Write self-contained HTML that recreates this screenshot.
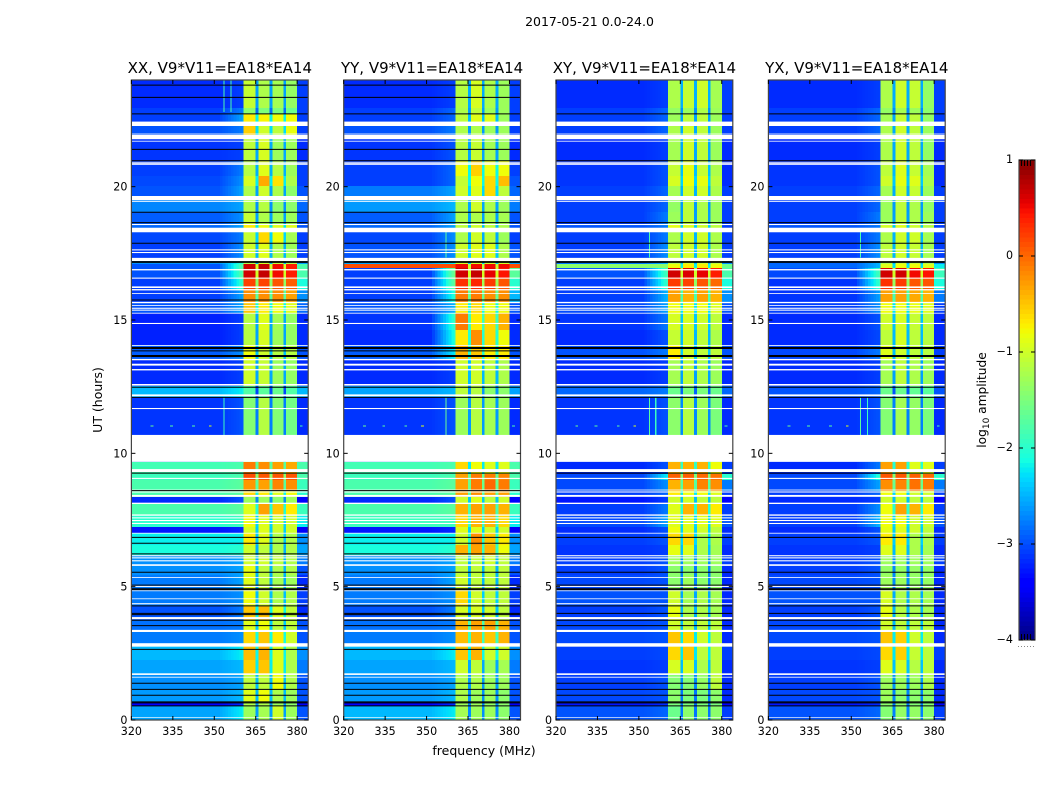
<!DOCTYPE html>
<html>
<head>
<meta charset="utf-8">
<title>2017-05-21 0.0-24.0</title>
<style>
html,body{margin:0;padding:0;background:#fff;width:1050px;height:800px;overflow:hidden}
svg{display:block}
text{font-family:"DejaVu Sans","Liberation Sans",sans-serif;fill:#000}
</style>
</head>
<body>
<svg id="chart" xmlns="http://www.w3.org/2000/svg" width="1050" height="800" viewBox="0 0 1050 800">
<text x="589.5" y="26" font-size="12.5" text-anchor="middle">2017-05-21 0.0-24.0</text>
<text x="484" y="755" font-size="12.5" text-anchor="middle">frequency (MHz)</text>
<text transform="translate(102,400) rotate(-90)" font-size="12.5" text-anchor="middle">UT (hours)</text>
<text transform="translate(986,400) rotate(-90)" font-size="12.2" text-anchor="middle">log<tspan font-size="9" dy="3">10</tspan><tspan dy="-3"> amplitude</tspan></text>
<g id="panels"></g>
<g id="colorbar"></g>
</svg>
<script>
// Time-band boundaries (UT hours), top to bottom; each row array has one entry per band.
const hourEdges = [24,22.95,22.73,22.43,21.94,20.96,20.40,20.03,19.65,19.05,18.56,18.30,17.85,17.33,17.10,16.95,16.58,16.13,15.64,15.26,14.63,14.06,13.50,12.53,12.11,9.68,9.23,9.00,8.59,8.36,8.14,7.69,7.24,7.01,6.56,6.19,5.81,5.44,4.88,4.28,3.75,3.30,2.78,2.25,1.69,1.13,0.68,0.53,0];
// Each row: log10 amplitude for [background, ramp, sub1, sub2, sub3, sub4, tail]
const xxRows = [
[-3,-2.9,-1.05,-1.2,-1.25,-1.35,-2.9],[-2.9,-2.6,-1.4,-1.5,-1.5,-1.6,-2.9],[-2.9,-2.4,-0.7,-0.75,-0.8,-0.8,-2.9],[-2.8,-2.6,-0.55,-1,-1.1,-0.85,-2.9],
[-2.95,-2.9,-1.1,-0.95,-1.3,-1.3,-3],[-2.9,-2.6,-1.15,-0.9,-1.15,-1.3,-2.9],[-2.85,-2.5,-0.95,-0.35,-0.65,-1.2,-2.9],[-2.8,-2.4,-1.2,-1,-1.2,-1.4,-2.8],
[-2.55,-2.4,-1.2,-1.15,-1.4,-1.4,-2.7],[-2.75,-2.5,-1.05,-1.2,-1.3,-1.3,-2.8],[-2.7,-2.4,-0.7,-0.8,-0.9,-0.9,-2.8],[-2.85,-2.6,-1.05,-0.6,-0.8,-1.25,-2.9],
[-2.9,-2.5,-1,-0.9,-1.2,-1.3,-2.9],[-2.5,-2,-1.2,-1,-1.1,-1.2,-2.4],[-2.8,-1.7,0.65,0.7,0.5,0.4,-1.8],[-2.8,-1.7,0.65,0.7,0.5,0.4,-1.8],
[-2.9,-1.9,0.2,0.2,0.1,0.05,-2.1],[-2.9,-2.4,-0.2,-0.2,-0.2,-0.3,-2.5],[-2.8,-2.4,-0.5,-0.7,-0.8,-0.9,-2.7],[-3.05,-2.9,-1.15,-0.9,-1.25,-1.35,-3],
[-3.05,-2.9,-1.15,-0.95,-1.3,-1.35,-3],[-2.75,-2.5,-0.8,-1,-1.15,-1.15,-2.8],[-3,-2.9,-1,-1.05,-1.3,-1.35,-3],[-2.3,-2.2,-1.75,-1.7,-1.6,-1.75,-2.3],
[-2.95,-2.8,-1.45,-1.15,-1.45,-1.55,-3],[-1.85,-1.8,-0.1,-0.2,-0.3,-0.35,-1.8],[-1.9,-1.8,0.15,0.1,0.1,0.1,-1.8],[-1.8,-1.7,-0.25,-0.3,-0.15,-0.2,-1.9],
[-1.8,-1.7,-0.6,-0.7,-0.9,-0.8,-2],[-3,-2.8,-1.3,-1.3,-1.4,-1.3,-3.2],[-1.8,-1.7,-0.9,-0.3,-0.5,-0.7,-1.9],[-2,-1.9,-0.8,-0.9,-1,-1,-2.2],
[-3.1,-3,-0.95,-0.9,-1,-1,-3.3],[-2.2,-2.2,-0.7,-0.9,-1.2,-1.2,-2.5],[-2.1,-2,-1,-1.1,-1.2,-1.2,-2.4],[-2.5,-2.4,-1,-1,-1.1,-1.2,-2.6],
[-2.5,-2.4,-0.85,-1.1,-1.2,-1.2,-2.8],[-2.6,-2.4,-0.9,-1.1,-1.25,-1.3,-3],[-2.6,-2.5,-0.8,-1,-1.2,-1.2,-2.9],[-2.8,-2.6,-0.5,-0.45,-0.9,-1.1,-3],
[-2.65,-2.6,-0.9,-0.8,-1.1,-1.1,-2.8],[-2.6,-2.5,-0.6,-0.5,-0.7,-1,-2.8],[-2.3,-2.2,-0.45,-0.4,-0.9,-1.2,-2.5],[-2.4,-2.3,-0.55,-0.5,-0.9,-1.2,-2.6],
[-2.5,-2.4,-1.1,-1.1,-0.8,-1.2,-2.8],[-2.45,-2.3,-0.9,-0.8,-1.2,-1.3,-2.8],[-3.2,-3,-1.2,-1.2,-1.3,-1.4,-3.3],[-2.4,-2.2,-1.3,-1.25,-1,-1.3,-2.8]
];
const yyRows = [
[-3,-2.9,-1.15,-0.95,-1.2,-1.3,-2.9],[-2.9,-2.7,-1.2,-1.1,-1.3,-1.3,-2.9],[-2.9,-2.7,-1.1,-0.9,-0.9,-1.3,-2.9],[-2.8,-2.6,-1.2,-1.2,-1.3,-1.3,-2.9],
[-2.95,-2.8,-1.15,-1.05,-1.25,-1.3,-3],[-2.9,-2.7,-0.8,-0.55,-0.8,-0.8,-2.9],[-2.9,-2.7,-1.05,-0.8,-0.6,-0.45,-2.8],[-2.6,-2.4,-1,-0.9,-0.6,-1.1,-2.7],
[-2.45,-2.3,-1.2,-1,-1.2,-1.3,-2.6],[-2.75,-2.4,-1.2,-1.2,-1.2,-1.25,-2.8],[-2.7,-2.4,-1.1,-1,-1.1,-1.2,-2.8],[-2.85,-2.5,-1.2,-1,-1.1,-1.3,-2.9],
[-2.8,-2.5,-1,-0.9,-0.9,-1.2,-2.8],[-2.4,-2.2,-1,-1,-1,-1,-2.4],[0.15,0.15,0.5,0.5,0.5,0.5,0.15],[-2.9,-1.5,0.65,0.7,0.55,0.45,-1.7],
[-2.9,-1.6,0.3,0.35,0.25,0.1,-2],[-2.9,-2,-0.1,-0.1,-0.2,-0.2,-2.3],[-2.8,-2.3,-0.7,-0.6,-0.8,-0.8,-2.8],[-2.95,-1.9,-0.1,-0.7,-0.6,-0.4,-3],
[-3,-2,-0.7,-0.2,-0.6,-0.8,-3],[-2.75,-2.2,-0.4,-0.5,-0.7,-0.7,-2.8],[-3,-2.9,-1,-1,-1.1,-1.2,-3],[-2.4,-2.3,-1.1,-1.15,-1.4,-1.4,-2.4],
[-2.95,-2.8,-1.3,-1.15,-1.25,-1.3,-3],[-1.85,-1.8,-0.6,-0.8,-0.9,-0.9,-1.8],[-1.9,-1.8,-0.3,-0.1,-0.1,-0.15,-1.8],[-1.8,-1.7,-0.3,-0.1,0,-0.1,-1.9],
[-1.8,-1.7,-0.3,-0.2,-0.3,-0.3,-2],[-3,-2.8,-1,-0.9,-1.1,-1,-3.2],[-1.8,-1.7,-0.4,-0.3,-0.3,-0.4,-1.9],[-1.9,-1.9,-0.6,-0.4,-0.4,-0.6,-2.2],
[-3.1,-3,-0.9,-0.9,-1,-1,-3.3],[-2.2,-2.2,-1,-0.2,-0.5,-0.7,-2.5],[-2.1,-2,-0.4,-0.3,-0.4,-0.8,-2.4],[-2.5,-2.4,-1.1,-1.1,-1,-1.1,-2.6],
[-2.5,-2.4,-1.1,-1.1,-1.1,-1.1,-2.8],[-2.6,-2.4,-1,-1.1,-1.1,-1.1,-3],[-2.6,-2.5,-0.6,-1,-1.1,-1.1,-2.9],[-2.8,-2.6,-0.95,-0.95,-1,-1.1,-3],
[-2.65,-2.6,-0.4,-0.3,-0.3,-0.4,-2.8],[-2.6,-2.5,-0.45,-0.4,-0.5,-0.4,-2.8],[-2.3,-2.2,-0.5,-0.4,-1,-1,-2.5],[-2.4,-2.3,-1,-1.1,-1.3,-1.25,-2.6],
[-2.5,-2.4,-1.2,-1.2,-1.3,-1.3,-2.8],[-2.45,-2.3,-1.2,-1.3,-1.3,-1.4,-2.8],[-3.2,-3,-1.3,-1.3,-1.35,-1.4,-3.3],[-2.3,-2.2,-1.25,-1.3,-1.3,-1.4,-2.8]
];
const xyRows = [
[-3,-2.9,-1.2,-1.05,-1,-1.25,-2.9],[-2.9,-2.7,-1.35,-1.3,-1.2,-1.3,-2.9],[-2.9,-2.7,-1.3,-1.1,-1.1,-1.3,-2.9],[-2.9,-2.7,-1.2,-1,-1.1,-1.3,-2.9],
[-3,-2.9,-1.25,-1,-1.1,-1.3,-3],[-2.95,-2.8,-1.05,-0.85,-1.05,-1.2,-3],[-2.95,-2.8,-0.95,-0.8,-0.85,-1.1,-3],[-2.9,-2.7,-1.25,-1,-1,-1.2,-2.9],
[-2.9,-2.7,-1.35,-1.1,-1.2,-1.3,-2.9],[-2.9,-2.6,-1.3,-1.1,-1.2,-1.3,-2.9],[-2.8,-2.6,-0.85,-0.9,-1,-1.1,-2.9],[-2.9,-2.6,-1.2,-1,-1,-1.2,-2.9],
[-2.9,-2.5,-1.1,-1,-1,-1.2,-2.9],[-2.6,-2.3,-1.2,-1,-1,-1.1,-2.5],[-1.4,-1.4,-0.8,-0.7,-0.7,-0.8,-1.6],[-2.8,-1.8,0.65,0.6,0.55,0.4,-1.8],
[-2.9,-1.9,0.25,0.2,0.1,0,-2.1],[-2.9,-2.3,-0.3,-0.4,-0.3,-0.4,-2.5],[-2.85,-2.4,-0.8,-0.8,-0.8,-0.9,-2.8],[-2.95,-2.6,-0.95,-0.95,-1,-1.1,-3],
[-3,-2.8,-1.05,-1,-1.1,-1.2,-3],[-2.8,-2.6,-0.7,-1,-1.1,-1.1,-2.8],[-3,-2.9,-1.25,-1.1,-1.2,-1.3,-3],[-2.7,-2.6,-1.6,-1.5,-1.5,-1.6,-2.7],
[-2.95,-2.8,-1.4,-1.15,-1.3,-1.5,-3],[-3,-2.8,-0.4,-0.4,-0.4,-0.8,-2.9],[-2.85,-2.2,0.05,0.05,0,-0.05,-2],[-2.85,-2.5,-0.4,-0.3,-0.15,-0.2,-2.6],
[-2.9,-2.7,-0.7,-0.8,-0.8,-0.9,-2.9],[-3.1,-2.9,-1,-1,-1.1,-1.1,-3.2],[-2.9,-2.6,-0.9,-0.4,-0.4,-0.7,-2.9],[-2.85,-2.4,-0.9,-0.9,-0.9,-0.9,-2.8],
[-3,-2.8,-0.8,-0.9,-1,-1.1,-3],[-2.9,-2.8,-0.6,-0.6,-1.2,-1.2,-2.9],[-2.95,-2.9,-0.85,-0.9,-1.2,-1.25,-3],[-2.9,-2.8,-1.3,-1.3,-1.3,-1.3,-2.9],
[-2.9,-2.8,-1.4,-1.4,-1.4,-1.4,-3],[-2.85,-2.8,-1.4,-1.3,-1.4,-1.4,-3],[-2.8,-2.8,-1,-1.25,-1.2,-1.25,-3],[-2.9,-2.8,-0.85,-1.2,-1.2,-1.25,-3],
[-2.85,-2.8,-1,-1.1,-1.1,-1.1,-3],[-2.85,-2.8,-0.5,-0.6,-1,-1.1,-3],[-2.9,-2.85,-0.6,-0.5,-1.1,-1.1,-2.9],[-2.95,-2.9,-0.95,-0.95,-1.2,-1.1,-3],
[-2.9,-2.8,-1.45,-1.45,-1.35,-1.1,-3],[-2.85,-2.8,-1.4,-1.5,-1.5,-1.4,-3],[-3.1,-3,-1.5,-1.5,-1.5,-1.5,-3.2],[-2.8,-2.7,-1.6,-1.4,-1.4,-1.4,-2.9]
];
const yxRows = [
[-3,-2.9,-1.2,-1,-1.05,-1.35,-2.9],[-2.9,-2.7,-1.35,-1.25,-1.3,-1.4,-2.9],[-2.9,-2.7,-1.25,-1.05,-1.1,-1.35,-2.9],[-2.9,-2.7,-1.2,-1,-1.1,-1.3,-2.9],
[-3,-2.9,-1.2,-1,-1.1,-1.35,-3],[-2.95,-2.8,-1.1,-0.9,-1.05,-1.25,-3],[-2.95,-2.8,-1,-0.85,-0.9,-1.2,-3],[-2.9,-2.7,-1.25,-1,-1.05,-1.3,-2.9],
[-2.9,-2.7,-1.3,-1.1,-1.2,-1.35,-2.9],[-2.9,-2.6,-1.3,-1.1,-1.2,-1.3,-2.9],[-2.8,-2.6,-0.95,-0.9,-1,-1.15,-2.9],[-2.9,-2.6,-1.2,-1,-1,-1.25,-2.9],
[-2.9,-2.5,-1.1,-1,-1.05,-1.25,-2.9],[-2.7,-2.3,-1.2,-1,-1.05,-1.2,-2.5],[-2.7,-2.3,-0.9,-0.8,-0.8,-0.9,-2.2],[-2.85,-1.8,0.65,0.65,0.5,0.45,-1.9],
[-2.95,-1.9,0.3,0.25,0.1,0.1,-2.1],[-2.95,-2.4,-0.3,-0.3,-0.35,-0.4,-2.6],[-2.9,-2.5,-0.8,-0.8,-0.85,-0.9,-2.9],[-3,-2.8,-1,-0.95,-1.05,-1.1,-3],
[-3,-2.85,-1.1,-0.95,-1.1,-1.15,-3],[-2.85,-2.6,-0.9,-1,-1.1,-1.15,-2.9],[-3,-2.9,-1.25,-1.1,-1.2,-1.3,-3],[-2.8,-2.7,-1.6,-1.6,-1.65,-1.7,-2.8],
[-2.95,-2.8,-1.45,-1.25,-1.35,-1.5,-3],[-3,-2.6,-0.3,-0.3,-0.9,-0.9,-2.9],[-2.85,-2,0.1,0.1,0.05,0,-2],[-2.85,-2.4,-0.2,-0.15,-0.05,-0.1,-2.6],
[-2.9,-2.7,-0.8,-0.8,-1,-1,-2.9],[-3,-2.9,-1,-1,-1.1,-1.1,-3.2],[-2.9,-2.5,-0.8,-0.3,-0.4,-0.7,-2.9],[-2.9,-2.3,-0.8,-0.8,-1,-1,-2.8],
[-3,-2.8,-0.85,-0.9,-1,-1.1,-3],[-2.9,-2.8,-0.7,-0.7,-1.2,-1.2,-2.9],[-2.95,-2.9,-0.9,-0.9,-1.2,-1.25,-3],[-2.9,-2.8,-1.3,-1.3,-1.3,-1.3,-2.9],
[-2.9,-2.8,-1.35,-1.35,-1.35,-1.35,-3],[-2.85,-2.8,-1.3,-1.3,-1.35,-1.35,-3],[-2.8,-2.8,-0.95,-1.2,-1.2,-1.25,-3],[-2.9,-2.8,-0.85,-1.15,-1.2,-1.25,-3],
[-2.85,-2.8,-1,-1.1,-1.1,-1.1,-3],[-2.85,-2.8,-0.5,-0.55,-1,-1.1,-3],[-2.9,-2.85,-0.6,-0.55,-1.05,-1.1,-2.9],[-2.95,-2.9,-0.9,-0.95,-1.15,-1.1,-3],
[-2.9,-2.8,-1.3,-1.3,-1.3,-1.2,-3],[-2.85,-2.8,-1.3,-1.4,-1.4,-1.4,-3],[-3.1,-3,-1.4,-1.4,-1.45,-1.45,-3.2],[-2.8,-2.7,-1.45,-1.35,-1.35,-1.4,-2.9]
];
// Flagged intervals (white) in UT hours.
const gapStarts = [22.44,21.99,21.94,21.72,20.93,20.88,19.65,19.46,18.60,18.46,17.65,17.55,17.33,16.91,16.59,16.26,16.16,16.01,15.68,15.56,15.46,15.39,15.27,14.89,14.06,13.54,13.36,13.16,12.60,12.21,11.70,10.69,9.41,9.08,8.64,8.57,8.44,8.15,7.71,7.60,7.50,7.39,7.02,6.18,6.10,5.99,5.84,5.36,5.03,4.86,4.56,4.38,3.86,3.38,2.88,1.75,1.62,0.10];
const gapEnds = [22.275,21.96,21.78,21.69,20.90,20.82,19.49,19.43,18.56,18.29,17.61,17.51,17.21,16.86,16.55,16.20,16.11,15.98,15.63,15.53,15.42,15.35,15.24,14.85,14.03,13.49,13.29,13.11,12.54,12.14,11.66,9.68,9.30,9.04,8.61,8.53,8.37,8.10,7.66,7.56,7.46,7.35,6.99,6.14,6.06,5.95,5.78,5.33,4.99,4.83,4.53,4.34,3.78,3.30,2.75,1.69,1.59,0.075];
// Zero-amplitude integrations (thin black lines) in UT hours.
const parallelLines = [23.81,23.35,22.73,21.40,20.97,19.04,18.65,17.88,17.19,17.16,15.75,13.97,13.93,13.84,13.67,13.63,12.48,12.10,9.26,8.60,6.85,6.63,6.23,5.54,5.06,4.92,4.89,4.28,4.00,3.95,3.74,3.54,2.65,1.38,1.15,0.93,0.68,0.64,0.53];
const crossLines = [22.73,20.97,18.65,17.88,17.19,17.16,13.97,13.93,13.67,13.63,12.48,12.10,9.26,6.85,5.54,5.06,4.92,4.89,4.28,4.00,3.74,3.54,1.38,1.15,0.93,0.68,0.64,0.53];
// Narrow interference lines.
const rfiFreqs = [353.3,355.8,353.3,356.8,356.8,353.6,355.9,353.6,353.2,355.7,353.2];
const rfiTops = [24,24,12.1,18.3,12.1,12.1,12.1,18.3,12.1,12.1,18.3];
const rfiBottoms = [22.8,22.8,10.69,17.35,10.69,10.69,10.69,17.35,10.69,10.69,17.35];
const rfiPanels = [0,0,0,1,1,2,2,2,3,3,3];
const rfiValues = [-1.8,-1.8,-1.9,-1.7,-1.6,-1.7,-1.9,-1.8,-1.7,-1.9,-1.8];
// Short spikes along the 11.02 h integration.
const spikeHour = 11.02;
const spikeFreqs = [327,334,342,348,381];
const spikeValues = [-1.6,-1.7,-1.7,-0.9,-1.8];
const panelTitles = ["XX, V9*V11=EA18*EA14","YY, V9*V11=EA18*EA14","XY, V9*V11=EA18*EA14","YX, V9*V11=EA18*EA14"];
const panelKeys = ["xx","yy","xy","yx"];
const freqTicks = [320,335,350,365,380];
const hourTicks = [0,5,10,15,20];
const colorbarTicks = [1,0,-1,-2,-3,-4];

const NS = "http://www.w3.org/2000/svg";
const panelLefts = [131.4, 343.7, 556, 768.4];
const panelWidth = 176.8;
const plotTop = 80, plotBottom = 720;
const quietShift = -0.17;
const allRows = [xxRows, yyRows, xyRows, yxRows];
const allLines = [parallelLines, parallelLines, crossLines, crossLines];

function xScale(left, f){ return left + (f - 320) * panelWidth / 64; }
function yScale(h){ return plotBottom - h * (plotBottom - plotTop) / 24; }
function quiet(v){ return v < -2.25 ? v + quietShift : v; }
function lerp(p, xs, ys){
  for (let i = 1; i < xs.length; i++) if (p <= xs[i]) return ys[i-1] + (ys[i]-ys[i-1]) * (p-xs[i-1]) / (xs[i]-xs[i-1]);
  return ys[ys.length-1];
}
function jet(v){
  const t = Math.max(0, Math.min(1, (v + 4) / 5));
  const r = lerp(t,[0,.35,.66,.89,1],[0,0,1,1,.5]);
  const g = lerp(t,[0,.125,.375,.64,.91,1],[0,0,1,1,0,0]);
  const b = lerp(t,[0,.11,.34,.65,1],[.5,1,1,0,0]);
  return "rgb(" + Math.round(r*255) + "," + Math.round(g*255) + "," + Math.round(b*255) + ")";
}
function make(tag, attrs, parent){
  const el = document.createElementNS(NS, tag);
  for (const k in attrs) el.setAttribute(k, attrs[k]);
  parent.appendChild(el);
  return el;
}
function hline(parent, x1, x2, y, color, name){
  const el = make("line", {x1:x1, x2:x2, y1:y, y2:y, stroke:color, "stroke-width":1}, parent);
  
  
  return el;
}
function vline(parent, x, y1, y2, color, name){
  const el = make("line", {x1:x, x2:x, y1:y1, y2:y2, stroke:color, "stroke-width":1}, parent);
  
  
  return el;
}
function cell(parent, left, f0, f1, h0, h1, v){
  const x0 = xScale(left, f0), x1 = xScale(left, f1), y0 = yScale(h0), y1 = yScale(h1);
  const el = make("rect", {x:x0, y:y0, width:x1-x0, height:y1-y0, fill:jet(v), "shape-rendering":"crispEdges"}, parent);
  
  
}
function drawRow(g, left, row, h0, h1){
  const bg = quiet(row[0]), ramp = quiet(row[1]), s = row.slice(2, 6), tail = quiet(row[6]);
  const notch = (s[0]+s[1]+s[2]+s[3]) / 4 * 0.9 - 1.5;
  cell(g, left, 320, 352, h0, h1, bg);
  for (let f = 352; f < 360; f++) cell(g, left, f, f+1, h0, h1, bg + (ramp-bg) * (f-351) / 9);
  cell(g, left, 360, 360.5, h0, h1, ramp);
  cell(g, left, 360.5, 365, h0, h1, s[0]);
  cell(g, left, 365, 366, h0, h1, notch);
  cell(g, left, 366, 370, h0, h1, s[1]);
  cell(g, left, 370, 371, h0, h1, notch);
  cell(g, left, 371, 375, h0, h1, s[2]);
  cell(g, left, 375, 376, h0, h1, notch);
  cell(g, left, 376, 380, h0, h1, s[3]);
  cell(g, left, 380, 384, h0, h1, tail);
}
function drawPanel(i){
  const left = panelLefts[i], right = left + panelWidth;
  const root = document.getElementById("panels");
  const g = make("g", {}, root);
  
  
  const rows = allRows[i];
  for (let r = 0; r < rows.length; r++) drawRow(g, left, rows[r], hourEdges[r], hourEdges[r+1]);
  for (let k = 0; k < rfiFreqs.length; k++) {
    if (rfiPanels[k] === i) cell(g, left, rfiFreqs[k], rfiFreqs[k] + 0.4, rfiTops[k], rfiBottoms[k], rfiValues[k]);
  }
  for (let k = 0; k < spikeFreqs.length; k++) {
    cell(g, left, spikeFreqs[k], spikeFreqs[k] + 1, spikeHour + 0.02, spikeHour - 0.02, spikeValues[k]);
  }
  for (let k = 0; k < gapStarts.length; k++) {
    const el = make("rect", {x:left, y:yScale(gapStarts[k]), width:panelWidth, height:yScale(gapEnds[k])-yScale(gapStarts[k]), fill:"#fff"}, g);
    
    
  }
  allLines[i].forEach(h => hline(g, left, right, yScale(h), "#000", "flagged-line"));
  const frame = make("rect", {x:left, y:plotTop, width:panelWidth, height:plotBottom-plotTop, fill:"none", stroke:"#444", "stroke-width":1.2}, g);
  
  
  freqTicks.forEach(f => {
    const x = xScale(left, f);
    vline(g, x, plotBottom, plotBottom-4, "#000", "x-tick");
    vline(g, x, plotTop, plotTop+4, "#000", "x-tick");
    const t = make("text", {x:x, y:plotBottom+15, "font-size":11.1, "text-anchor":"middle"}, g);
    
    
    t.textContent = f;
  });
  hourTicks.forEach(h => {
    const y = yScale(h);
    hline(g, left, left+4, y, "#000", "y-tick");
    hline(g, right-4, right, y, "#000", "y-tick");
    const t = make("text", {x:left-4, y:y+4, "font-size":11.1, "text-anchor":"end"}, g);
    
    
    t.textContent = h;
  });
  const title = make("text", {x:left+panelWidth/2, y:73, "font-size":15, "text-anchor":"middle"}, g);
  
  
  title.textContent = panelTitles[i];
}
function colorbarY(v){ return 160 + (1 - v) * 96; }
function drawColorbar(){
  const g = document.getElementById("colorbar");
  const x0 = 1019, x1 = 1035;
  for (let n = 0; n < 100; n++) {
    const v = -4 + n * 0.05;
    const el = make("rect", {x:x0, y:colorbarY(v+0.05), width:x1-x0, height:colorbarY(v)-colorbarY(v+0.05)+0.5, fill:jet(v+0.025), "shape-rendering":"crispEdges"}, g);
    
    
  }
  const frame = make("rect", {x:x0, y:160, width:x1-x0, height:480, fill:"none", stroke:"#444", "stroke-width":1.2}, g);
  
  
  colorbarTicks.forEach(v => {
    const y = colorbarY(v);
    hline(g, x0, x0+4, y, "#000", "colorbar-tick");
    hline(g, x1-4, x1, y, "#000", "colorbar-tick");
    const t = make("text", {x:x0-6, y:y+3, "font-size":11.1, "text-anchor":"end"}, g);
    
    
    t.textContent = String(v).replace("-", "\u2212");
  });
  [2.5, 5.5, 8.5, 11.5].forEach(dx => {
    vline(g, x0+dx, 160, 166, "#000", "colorbar-minor-tick");
    vline(g, x0+dx, 634, 640, "#000", "colorbar-minor-tick");
  });
  for (let k = 0; k < 6; k++) {
    const d = make("rect", {x:1018+k*3, y:646, width:1, height:1, fill:"#888"}, g);
    
    
  }
}
for (let i = 0; i < 4; i++) drawPanel(i);
drawColorbar();
</script>
</body>
</html>
